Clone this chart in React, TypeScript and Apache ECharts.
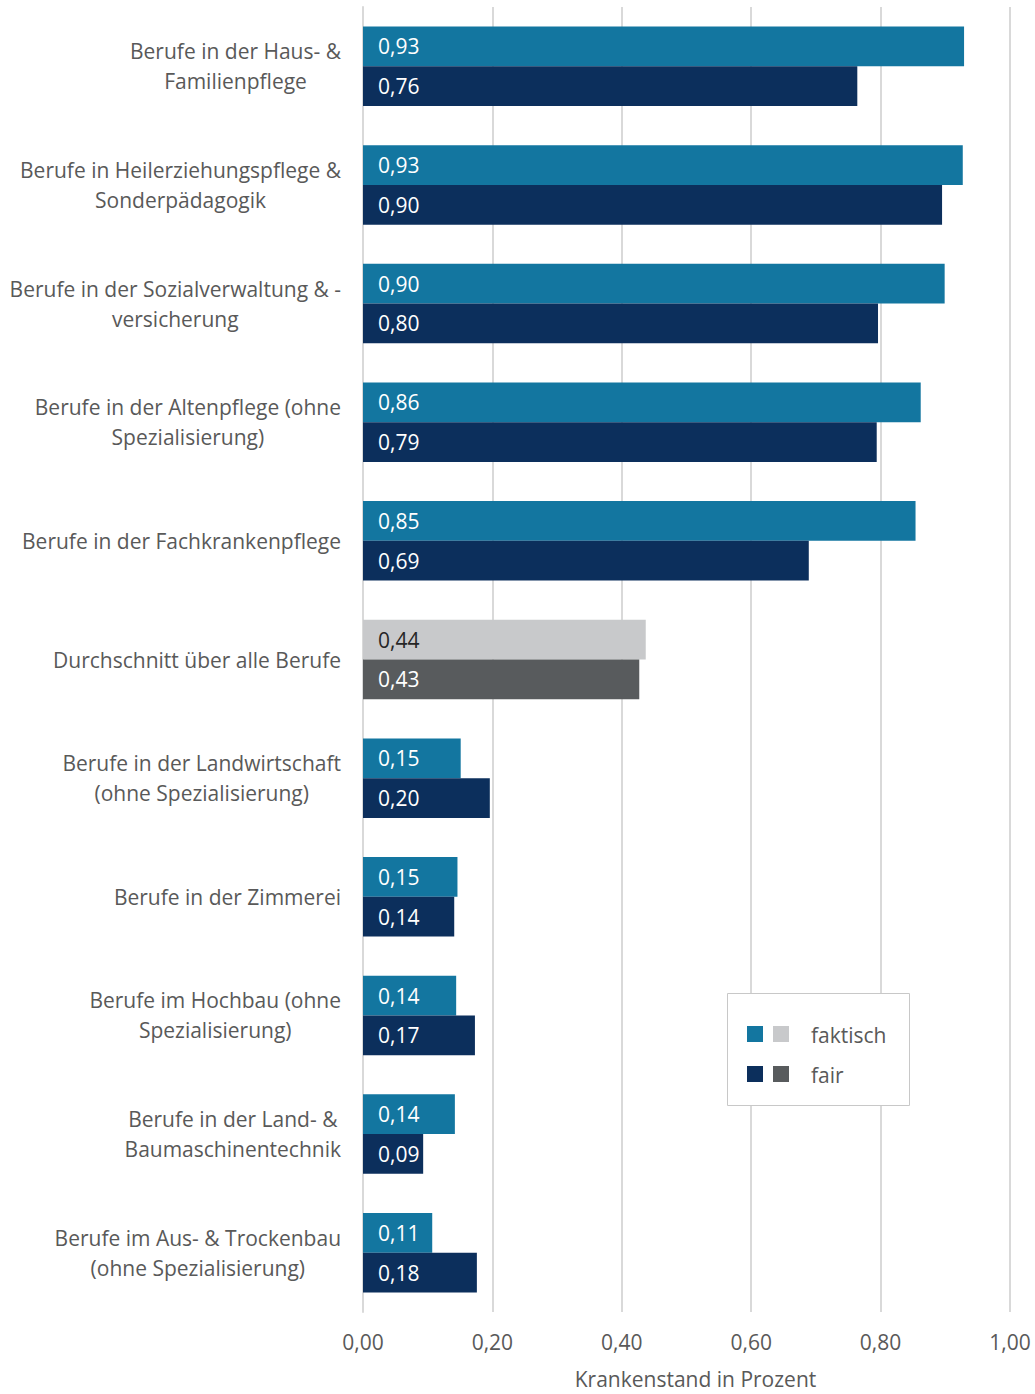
import React, { useEffect, useRef } from "react";
import * as echarts from "echarts";

const categories: string[] = [
  "Berufe in der Haus- &\nFamilienpflege",
  "Berufe in Heilerziehungspflege &\nSonderpädagogik",
  "Berufe in der Sozialverwaltung & -\nversicherung",
  "Berufe in der Altenpflege (ohne\nSpezialisierung)",
  "Berufe in der Fachkrankenpflege",
  "Durchschnitt über alle Berufe",
  "Berufe in der Landwirtschaft\n(ohne Spezialisierung)",
  "Berufe in der Zimmerei",
  "Berufe im Hochbau (ohne\nSpezialisierung)",
  "Berufe in der Land- &\nBaumaschinentechnik",
  "Berufe im Aus- & Trockenbau\n(ohne Spezialisierung)",
];

const faktisch: number[] = [0.929, 0.927, 0.899, 0.862, 0.854, 0.437, 0.151, 0.146, 0.144, 0.142, 0.107];
const fair: number[] = [0.764, 0.895, 0.796, 0.794, 0.689, 0.427, 0.196, 0.141, 0.173, 0.093, 0.176];

const averageIndex = 5;
const xTicks = { min: 0, max: 1, interval: 0.2 };

const BLUE = "#1376a0";
const NAVY = "#0c2f5c";
const LIGHT = "#c8c9cb";
const DARK = "#585b5d";
const FONT = "Open Sans";
const FS = 21;

const fmt = (v: number) => v.toFixed(2).replace(".", ",");

export default function App() {
  const ref = useRef<HTMLDivElement>(null);
  useEffect(() => {
    document.body.style.margin = "0";
    if (!ref.current) return;
    const chart = echarts.init(ref.current, undefined, { renderer: "svg" });
    const mk = (vals: number[], color: string, avgColor: string, avgLabel: string) =>
      vals.map((v, i) => ({
        value: v,
        itemStyle: { color: i === averageIndex ? avgColor : color },
        label: { color: i === averageIndex ? avgLabel : "#ffffff" },
      }));
    const barLabel = {
      show: true,
      position: "insideLeft",
      distance: 15,
      fontSize: FS,
      fontFamily: FONT,
      formatter: (p: any) => fmt(p.value),
    };
    chart.setOption({
      animation: false,
      textStyle: { fontFamily: FONT },
      grid: { left: 363, right: 25, top: 7, bottom: 66, containLabel: false },
      xAxis: {
        type: "value",
        min: xTicks.min,
        max: xTicks.max,
        interval: xTicks.interval,
        axisLine: { show: false },
        axisTick: { show: false },
        splitLine: { lineStyle: { color: "#d9d9d9", width: 2 } },
        axisLabel: {
          formatter: (v: number) => fmt(v),
          color: "#595959",
          fontSize: FS,
          fontFamily: FONT,
          margin: 19,
        },
        name: "Krankenstand in Prozent",
        nameLocation: "middle",
        nameGap: 56,
        nameTextStyle: { color: "#595959", fontSize: FS, fontFamily: FONT, padding: [0, 0, 0, 18] },
      },
      yAxis: {
        type: "category",
        data: categories,
        inverse: true,
        axisLine: { show: true, lineStyle: { color: "#d9d9d9", width: 2 } },
        axisTick: { show: false },
        axisLabel: {
          color: "#595959",
          fontSize: FS,
          fontFamily: FONT,
          margin: 22,
          lineHeight: 30,
          formatter: (v: string) =>
            v
              .split("\n")
              .map((l) => "{c|" + l + "}")
              .join("\n"),
          rich: {
            c: { align: "center", color: "#595959", fontSize: FS, fontFamily: FONT, lineHeight: 30 },
          },
        },
      },
      series: [
        {
          name: "faktisch",
          type: "bar",
          data: mk(faktisch, BLUE, LIGHT, "#262626"),
          barGap: "0%",
          barCategoryGap: "33%",
          label: barLabel,
        },
        {
          name: "fair",
          type: "bar",
          data: mk(fair, NAVY, DARK, "#ffffff"),
          barGap: "0%",
          barCategoryGap: "33%",
          label: barLabel,
        },
      ],
      graphic: [
        {
          type: "rect",
          shape: { x: 727.5, y: 993.5, width: 182, height: 112 },
          style: { fill: "#ffffff", stroke: "#c8c8c8", lineWidth: 1 },
          z: 100,
        },
        { type: "rect", shape: { x: 747, y: 1026, width: 16, height: 16 }, style: { fill: BLUE }, z: 101 },
        { type: "rect", shape: { x: 773, y: 1026, width: 16, height: 16 }, style: { fill: LIGHT }, z: 101 },
        { type: "rect", shape: { x: 747, y: 1066, width: 16, height: 16 }, style: { fill: NAVY }, z: 101 },
        { type: "rect", shape: { x: 773, y: 1066, width: 16, height: 16 }, style: { fill: DARK }, z: 101 },
        {
          type: "text",
          x: 811,
          y: 1035,
          style: { text: "faktisch", fill: "#595959", fontSize: FS, fontFamily: FONT, verticalAlign: "middle" },
          z: 101,
        },
        {
          type: "text",
          x: 811,
          y: 1075,
          style: { text: "fair", fill: "#595959", fontSize: FS, fontFamily: FONT, verticalAlign: "middle" },
          z: 101,
        },
      ],
    });
    return () => chart.dispose();
  }, []);
  return <div ref={ref} style={{ width: 1035, height: 1394 }} />;
}
